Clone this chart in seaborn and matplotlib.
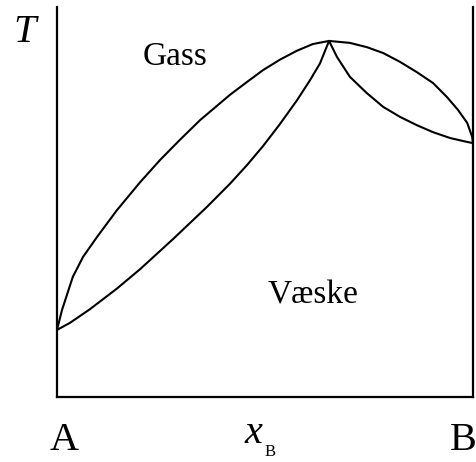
import matplotlib
matplotlib.use("Agg")
from matplotlib import pyplot as plt
import pandas as pd
import seaborn as sns

# composition x_B (0 = pure A, 1 = pure B) and temperature (relative units)
gas_left_x = [0, .012, .038, .0625, .096, .144, .200, .248, .296, .344, .416, .457,
              .495, .536, .577, .615, .654]
gas_left_T = [.172, .223, .308, .359, .410, .479, .551, .608, .660, .710, .775, .808,
              .838, .865, .888, .905, .913]

liq_left_x = [0, .031, .079, .144, .200, .279, .361, .416, .457, .495, .536, .577,
              .608, .632, .654]
liq_left_T = [.172, .190, .225, .278, .328, .405, .488, .547, .595, .643, .700, .761,
              .812, .855, .913]

gas_right_x = [.654, .704, .745, .784, .825, .865, .904, .9375, .964, .986, .998, 1.0]
gas_right_T = [.913, .908, .897, .882, .859, .833, .805, .769, .736, .703, .667, .651]

liq_right_x = [.654, .673, .704, .745, .784, .825, .865, .904, .945, .986, 1.0]
liq_right_T = [.913, .872, .821, .779, .744, .718, .697, .679, .664, .654, .651]

sns.set_style("white")
plt.rcParams['font.family'] = ['Liberation Serif', 'DejaVu Serif']

fig = plt.figure(figsize=(4.76, 4.62), dpi=100)
ax = fig.add_axes([57 / 476, 65 / 462, 416 / 476, 390 / 462])

curves = [(gas_left_x, gas_left_T), (liq_left_x, liq_left_T),
          (gas_right_x, gas_right_T), (liq_right_x, liq_right_T)]
for cx, cT in curves:
    df = pd.DataFrame({"x": cx, "T": cT})
    sns.lineplot(data=df, x="x", y="T", sort=False, color="black", linewidth=1.5,
                 ax=ax, clip_on=False, solid_joinstyle='round', solid_capstyle='round')

ax.set_xlim(0, 1)
ax.set_ylim(0, 1)
ax.set_xticks([])
ax.set_yticks([])
ax.set_xlabel("")
ax.set_ylabel("")
ax.spines['top'].set_visible(False)
for s in ['left', 'bottom', 'right']:
    ax.spines[s].set_color("black")
    ax.spines[s].set_linewidth(1.6)

def px_text(x, y, s, size, **kw):
    fig.text(x / 476, 1 - y / 462, s, fontsize=size, va='baseline', color='black', **kw)

px_text(25, 42, "T", 29, ha='center', style='italic')
px_text(143, 65, "Gass", 24, ha='left')
px_text(268, 303, "Væske", 24, ha='left')
px_text(64, 450, "A", 29, ha='center')
px_text(253, 443, "x", 29, ha='center', style='italic')
px_text(270, 456, "B", 12, ha='center')
px_text(450, 450, "B", 29, ha='left')

fig.savefig("out.png", dpi=100)
